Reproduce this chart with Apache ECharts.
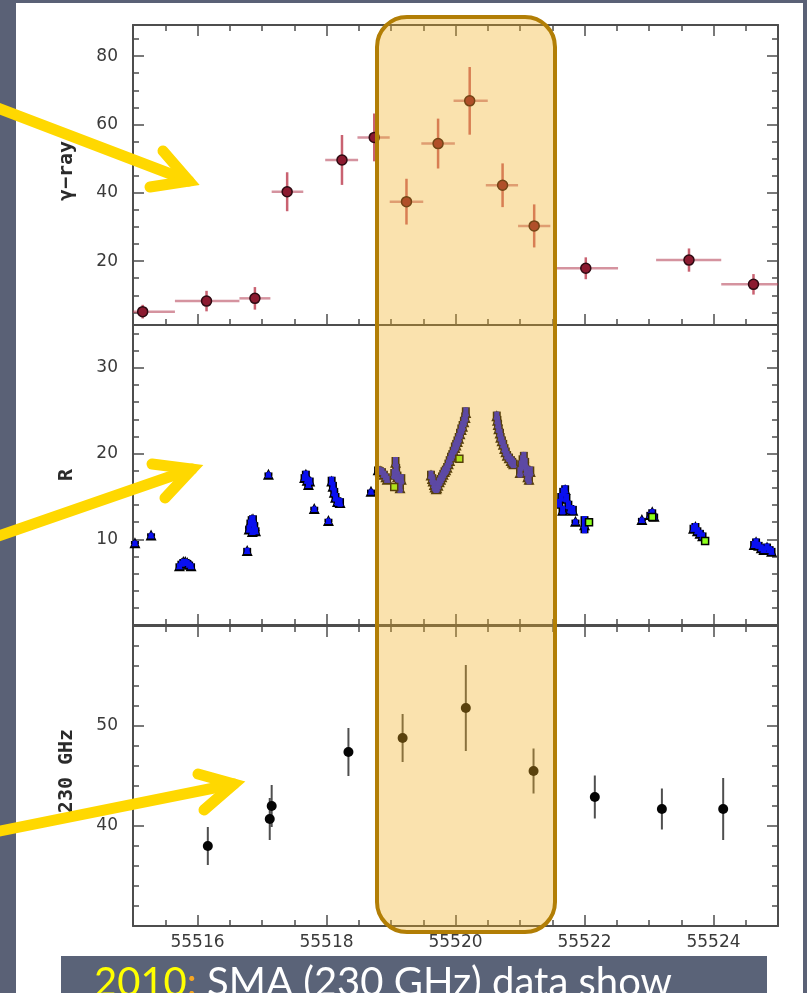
<!DOCTYPE html>
<html>
<head>
<meta charset="utf-8">
<script src="https://cdn.jsdelivr.net/npm/echarts@6/dist/echarts.min.js"></script>
<style>
  html, body { margin: 0; padding: 0; background: #5a6176; }
  #sheet { position: absolute; left: 16px; top: 3px; width: 787px; height: 990px; background: #ffffff; }
  #chart { position: absolute; left: 0; top: 0; width: 807px; height: 993px; }
</style>
</head>
<body>
<div id="sheet"></div>
<div id="chart"></div>
<script>
// ---- time axis (MJD) ----
const mjdRange = [55515, 55525];
const mjdLabelTicks = [55516, 55518, 55520, 55522, 55524];

// ---- gamma-ray light curve (flux with time-bin edges) ----
const gammaMjd  = [55515.15, 55516.14, 55516.89, 55517.39, 55518.24, 55518.74, 55519.24, 55519.73, 55520.22, 55520.73, 55521.22, 55522.02, 55523.62, 55524.62];
const gammaFlux = [5.2, 8.3, 9.1, 40.3, 49.6, 56.2, 37.4, 54.4, 66.9, 42.2, 30.3, 17.9, 20.3, 13.2];
const gammaErr  = [2.0, 3.0, 3.3, 5.7, 7.3, 7.0, 6.7, 7.3, 9.9, 6.4, 6.3, 3.2, 3.4, 3.0];
const gammaBinLo = [55514.65, 55515.65, 55516.65, 55517.15, 55517.98, 55518.48, 55518.98, 55519.47, 55519.97, 55520.47, 55520.97, 55521.52, 55523.11, 55524.12];
const gammaBinHi = [55515.65, 55516.65, 55517.13, 55517.64, 55518.49, 55518.98, 55519.50, 55519.99, 55520.50, 55520.97, 55521.47, 55522.52, 55524.12, 55525.12];
const gammaMinorTicks = [5, 10, 15, 20, 25, 30, 35, 40, 45, 50, 55, 60, 65, 70, 75, 80, 85];
const gammaMajorTicks = [20, 40, 60, 80];

// ---- optical R-band photometry ----
const rMjd = [
  55515.03, 55515.28,
  55515.72, 55515.75, 55515.78, 55515.81, 55515.84, 55515.87, 55515.90,
  55516.77,
  55516.80, 55516.82, 55516.84, 55516.86, 55516.88, 55516.85, 55516.90,
  55517.10,
  55517.66, 55517.68, 55517.70, 55517.72, 55517.74,
  55517.81, 55518.03,
  55518.08, 55518.10, 55518.12, 55518.14, 55518.17, 55518.21,
  55518.69,
  55518.80, 55518.83, 55518.86, 55518.89, 55518.92, 55518.94,
  55519.05, 55519.07, 55519.08, 55519.10, 55519.12, 55519.14, 55519.16,
  55519.62, 55519.64, 55519.65, 55519.67, 55519.68, 55519.70, 55519.71, 55519.73, 55519.75, 55519.77,
  55519.79, 55519.81, 55519.83, 55519.85, 55519.87, 55519.89, 55519.91, 55519.93, 55519.95, 55519.97,
  55519.99, 55520.01, 55520.03, 55520.05, 55520.07, 55520.09, 55520.11, 55520.13, 55520.15, 55520.16,
  55520.64, 55520.65, 55520.66, 55520.67, 55520.69, 55520.70, 55520.72, 55520.74, 55520.76, 55520.78,
  55520.80, 55520.83, 55520.86, 55520.88, 55520.90,
  55521.00, 55521.02, 55521.04, 55521.06, 55521.08, 55521.10, 55521.12, 55521.14, 55521.16,
  55521.61, 55521.64, 55521.67, 55521.70, 55521.72, 55521.75, 55521.78, 55521.66, 55521.82,
  55521.86, 55522.00, 55522.89,
  55523.02, 55523.05, 55523.08,
  55523.69, 55523.72, 55523.75, 55523.79, 55523.83,
  55524.63, 55524.66, 55524.70, 55524.74, 55524.78, 55524.83, 55524.87, 55524.90
];
const rMag = [
  9.6, 10.5,
  6.9, 7.2, 7.4, 7.4, 7.3, 7.1, 6.9,
  8.7,
  11.2, 11.9, 12.3, 12.4, 11.6, 10.9, 11.0,
  17.6,
  17.2, 17.6, 16.9, 16.4, 16.8,
  13.6, 12.2,
  16.8, 16.2, 15.5, 14.9, 14.4, 14.3,
  15.6,
  18.1, 18.0, 17.9, 17.6, 17.3, 17.0,
  17.6, 19.0, 18.2, 17.3, 16.5, 16.0, 17.0,
  17.5, 17.1, 16.8, 16.4, 16.1, 15.9, 16.0, 16.3, 16.7, 17.0,
  17.3, 17.6, 17.9, 18.1, 18.4, 18.8, 19.2, 19.6, 19.9, 20.3,
  20.7, 21.0, 21.4, 21.8, 22.3, 22.8, 23.2, 23.7, 24.2, 24.8,
  24.4, 23.9, 23.4, 22.9, 22.4, 21.9, 21.5, 21.1, 20.6, 20.2,
  19.8, 19.5, 19.2, 19.0, 18.8,
  17.8, 18.6, 19.2, 19.6, 18.9, 18.0, 17.3, 17.0, 17.9,
  14.2, 14.9, 15.5, 15.8, 14.8, 14.0, 13.5, 13.4, 13.4,
  12.1, 11.7, 12.3,
  12.9, 13.2, 12.7,
  11.3, 11.5, 11.0, 10.7, 10.4,
  9.4, 9.7, 9.3, 9.0, 8.8, 9.1, 8.8, 8.6
];
const rErr = [
  0.2, 0.2,
  0.3, 0.3, 0.3, 0.3, 0.3, 0.3, 0.3,
  0.3,
  0.4, 0.4, 0.4, 0.4, 0.4, 0.4, 0.4,
  0.2,
  0.4, 0.4, 0.4, 0.4, 0.4,
  0.2, 0.2,
  0.5, 0.5, 0.5, 0.5, 0.5, 0.5,
  0.2,
  0.4, 0.4, 0.4, 0.4, 0.4, 0.4,
  0.6, 0.6, 0.6, 0.6, 0.6, 0.6, 0.6,
  0.5, 0.5, 0.5, 0.5, 0.5, 0.5, 0.5, 0.5, 0.5, 0.5,
  0.5, 0.5, 0.5, 0.5, 0.5, 0.5, 0.5, 0.5, 0.5, 0.5,
  0.6, 0.6, 0.6, 0.6, 0.6, 0.6, 0.6, 0.6, 0.6, 0.6,
  0.5, 0.5, 0.5, 0.5, 0.5, 0.5, 0.5, 0.5, 0.5, 0.5,
  0.5, 0.5, 0.5, 0.5, 0.5,
  0.6, 0.6, 0.6, 0.6, 0.6, 0.6, 0.6, 0.6, 0.6,
  0.5, 0.5, 0.5, 0.5, 0.5, 0.5, 0.5, 0.5, 0.5,
  0.2, 1.0, 0.2,
  0.3, 0.3, 0.3,
  0.4, 0.4, 0.4, 0.4, 0.4,
  0.4, 0.4, 0.4, 0.4, 0.4, 0.4, 0.4, 0.4
];
// second optical data set (squares)
const rAltMjd = [55519.05, 55520.06, 55522.07, 55523.05, 55523.87];
const rAltMag = [16.1, 19.4, 12.0, 12.6, 9.8];
const rMinorTicks = [2, 4, 6, 8, 10, 12, 14, 16, 18, 20, 22, 24, 26, 28, 30, 32, 34];
const rMajorTicks = [10, 20, 30];

// ---- SMA 230 GHz flux ----
const smaMjd  = [55516.16, 55517.12, 55517.15, 55518.34, 55519.18, 55520.16, 55521.21, 55522.16, 55523.20, 55524.15];
const smaFlux = [38.0, 40.7, 42.0, 47.4, 48.8, 51.8, 45.5, 42.9, 41.7, 41.7];
const smaErr  = [1.9, 2.1, 2.1, 2.4, 2.4, 4.3, 2.25, 2.15, 2.05, 3.1];
const smaMinorTicks = [32, 34, 36, 38, 40, 42, 44, 46, 48, 50, 52, 54, 56, 58];
const smaMajorTicks = [40, 50];

const panelTitles = ['\u03b3\u2212ray', 'R', '230 GHz'];
const captionParts = ['2010', ':', ' SMA (230 GHz) data show'];

// ---------------------------------------------------------------
const chart = echarts.init(document.getElementById('chart'), null, { renderer: 'canvas' });

const AXIS_COLOR = '#4d4d4d';
const LABEL_FONT = { fontFamily: 'DejaVu Sans', fontSize: 17, color: '#3a3a3a' };

const panels = [
  { top: 25,  range: [1.3, 89.1], minor: gammaMinorTicks, major: gammaMajorTicks },
  { top: 325, range: [0, 35],     minor: rMinorTicks,     major: rMajorTicks },
  { top: 626, range: [30, 60],    minor: smaMinorTicks,   major: smaMajorTicks }
];

const grids = panels.map(p => ({ left: 133, width: 645, top: p.top, height: 300 }));

const xAxes = [];
const yAxes = [];
panels.forEach((p, g) => {
  const isBottom = g === panels.length - 1;
  const xBase = {
    type: 'value', gridIndex: g, min: mjdRange[0], max: mjdRange[1],
    splitLine: { show: false }
  };
  ['bottom', 'top'].forEach(pos => {
    // short ticks every half day, with the frame line
    xAxes.push(Object.assign({}, xBase, {
      position: pos, interval: 0.5,
      axisLine: { show: true, lineStyle: { color: AXIS_COLOR, width: 2 } },
      axisTick: { show: true, inside: true, length: 6, lineStyle: { color: AXIS_COLOR, width: 1.5 } },
      axisLabel: { show: false }
    }));
    // long ticks (and labels on the lowest panel) every two days
    xAxes.push(Object.assign({}, xBase, {
      position: pos, offset: 0,
      axisLine: { show: false },
      axisTick: { show: true, inside: true, length: 11, customValues: mjdLabelTicks,
                  lineStyle: { color: AXIS_COLOR, width: 1.5 } },
      axisLabel: Object.assign({ show: isBottom && pos === 'bottom', customValues: mjdLabelTicks,
                  margin: 8, formatter: v => String(v) }, LABEL_FONT)
    }));
  });

  const yBase = {
    type: 'value', gridIndex: g, min: p.range[0], max: p.range[1],
    splitLine: { show: false }
  };
  ['left', 'right'].forEach(pos => {
    yAxes.push(Object.assign({}, yBase, {
      position: pos,
      axisLine: { show: true, lineStyle: { color: AXIS_COLOR, width: 2 } },
      axisTick: { show: true, inside: true, length: 6, customValues: p.minor,
                  lineStyle: { color: AXIS_COLOR, width: 1.5 } },
      axisLabel: { show: false }
    }));
    yAxes.push(Object.assign({}, yBase, {
      position: pos, offset: 0,
      axisLine: { show: false },
      axisTick: { show: true, inside: true, length: 11, customValues: p.major,
                  lineStyle: { color: AXIS_COLOR, width: 1.5 } },
      axisLabel: Object.assign({ show: pos === 'left', customValues: p.major,
                  margin: 15, formatter: v => String(v) }, LABEL_FONT)
    }));
  });
});

// error-bar drawing helpers (clipped to the panel)
function clampTo(cs, pt) {
  return [Math.max(cs.x, Math.min(cs.x + cs.width, pt[0])),
          Math.max(cs.y, Math.min(cs.y + cs.height, pt[1]))];
}
function verticalBar(color, width) {
  return function (params, api) {
    const cs = params.coordSys;
    const x = api.value(0), y = api.value(1), e = api.value(2);
    const a = clampTo(cs, api.coord([x, y - e]));
    const b = clampTo(cs, api.coord([x, y + e]));
    return { type: 'line', shape: { x1: a[0], y1: a[1], x2: b[0], y2: b[1] },
             style: { stroke: color, lineWidth: width } };
  };
}
function horizontalBar(color, width) {
  return function (params, api) {
    const cs = params.coordSys;
    const y = api.value(1);
    const a = clampTo(cs, api.coord([api.value(2), y]));
    const b = clampTo(cs, api.coord([api.value(3), y]));
    return { type: 'line', shape: { x1: a[0], y1: a[1], x2: b[0], y2: b[1] },
             style: { stroke: color, lineWidth: width } };
  };
}

const gammaPts = gammaMjd.map((t, i) => [t, gammaFlux[i]]);
const gammaYErr = gammaMjd.map((t, i) => [t, gammaFlux[i], gammaErr[i]]);
const gammaXErr = gammaMjd.map((t, i) => [t, gammaFlux[i], gammaBinLo[i], gammaBinHi[i]]);
const rPts = rMjd.map((t, i) => [t, rMag[i]]);
const rYErr = rMjd.map((t, i) => [t, rMag[i], rErr[i]]);
const rAltPts = rAltMjd.map((t, i) => [t, rAltMag[i]]);
const smaPts = smaMjd.map((t, i) => [t, smaFlux[i]]);
const smaYErr = smaMjd.map((t, i) => [t, smaFlux[i], smaErr[i]]);

const xi = g => g * 4;   // main x axis of each panel
const yi = g => g * 4;   // main y axis of each panel
const R_BLUE = '#0a10f0';

const series = [
  // gamma rays
  { type: 'custom', name: 'gamma x-bin', xAxisIndex: xi(0), yAxisIndex: yi(0), z: 2,
    renderItem: horizontalBar('rgba(178,58,80,0.55)', 2.5), data: gammaXErr, silent: true },
  { type: 'custom', name: 'gamma err', xAxisIndex: xi(0), yAxisIndex: yi(0), z: 2,
    renderItem: verticalBar('rgba(180,38,58,0.72)', 2.5), data: gammaYErr, silent: true },
  { type: 'scatter', name: 'gamma', xAxisIndex: xi(0), yAxisIndex: yi(0), z: 3,
    symbol: 'circle', symbolSize: 10, data: gammaPts,
    itemStyle: { color: '#8c1a30', borderColor: '#2e0a12', borderWidth: 1.5, opacity: 1 } },

  // R band: dark outline layer, then blue fill layer, then squares
  { type: 'custom', name: 'R err outline', xAxisIndex: xi(1), yAxisIndex: yi(1), z: 2,
    renderItem: verticalBar('#000000', 8), data: rYErr, silent: true },
  { type: 'scatter', name: 'R outline', xAxisIndex: xi(1), yAxisIndex: yi(1), z: 2,
    symbol: 'triangle', symbolSize: 11, data: rPts,
    itemStyle: { color: '#000000', opacity: 1 } },
  { type: 'custom', name: 'R err', xAxisIndex: xi(1), yAxisIndex: yi(1), z: 3,
    renderItem: verticalBar(R_BLUE, 5), data: rYErr, silent: true },
  { type: 'scatter', name: 'R', xAxisIndex: xi(1), yAxisIndex: yi(1), z: 4,
    symbol: 'triangle', symbolSize: 7, data: rPts,
    itemStyle: { color: R_BLUE, opacity: 1 } },
  { type: 'scatter', name: 'R (2)', xAxisIndex: xi(1), yAxisIndex: yi(1), z: 5,
    symbol: 'rect', symbolSize: 7, data: rAltPts,
    itemStyle: { color: '#8cff1a', borderColor: '#000000', borderWidth: 1.5, opacity: 1 } },

  // SMA 230 GHz
  { type: 'custom', name: 'SMA err', xAxisIndex: xi(2), yAxisIndex: yi(2), z: 2,
    renderItem: verticalBar('rgba(20,20,20,0.75)', 2), data: smaYErr, silent: true },
  { type: 'scatter', name: 'SMA', xAxisIndex: xi(2), yAxisIndex: yi(2), z: 3,
    symbol: 'circle', symbolSize: 10, data: smaPts,
    itemStyle: { color: '#050505', opacity: 1 } }
];

const ARROW = { stroke: '#ffd800', lineWidth: 11, lineCap: 'round', lineJoin: 'miter', fill: null };
function arrow(shaft, head) {
  return [
    { type: 'polyline', z: 120, shape: { points: shaft }, style: ARROW, silent: true },
    { type: 'polyline', z: 120, shape: { points: head }, style: ARROW, silent: true }
  ];
}

const TITLE_FONT = 'bold 20px "DejaVu Sans Mono"';
const titleYs = [171, 475, 771];

const graphics = [
  // highlighted flare interval
  { type: 'rect', z: 100, silent: true,
    shape: { x: 377, y: 17, width: 178, height: 915, r: 30 },
    style: { fill: 'rgba(240,175,30,0.36)', stroke: '#b27e05', lineWidth: 4 } },
  // panel titles
  ...panelTitles.map((t, i) => ({
    type: 'text', z: 50, x: 67, y: titleYs[i], rotation: Math.PI / 2, silent: true,
    style: { text: t, font: TITLE_FONT, fill: '#2a2a2a', align: 'center', verticalAlign: 'middle' }
  })),
  // pointers
  ...arrow([[-10, 105], [189, 181]], [[163, 151], [189, 181], [150, 187]]),
  ...arrow([[-10, 539], [192, 469]], [[152, 464], [192, 469], [165, 498]]),
  ...arrow([[-10, 833], [234, 784]], [[198, 774], [234, 784], [204, 810]]),
  // caption strip
  { type: 'rect', z: 130, silent: true,
    shape: { x: 61, y: 956, width: 706, height: 40 }, style: { fill: '#5a6378' } },
  { type: 'text', z: 131, x: 94, y: 983, silent: true,
    style: {
      text: '{a|' + captionParts[0] + '}{b|' + captionParts[1] + '}{c|' + captionParts[2] + '}',
      verticalAlign: 'middle', align: 'left',
      rich: {
        a: { fill: '#ffff00', font: '400 40px Lato' },
        b: { fill: '#f5a623', font: '400 40px Lato' },
        c: { fill: '#ffffff', font: '400 40px Lato' }
      }
    } }
];

chart.setOption({
  animation: false,
  backgroundColor: 'transparent',
  grid: grids,
  xAxis: xAxes,
  yAxis: yAxes,
  series: series,
  graphic: { elements: graphics }
});
</script>
</body>
</html>
